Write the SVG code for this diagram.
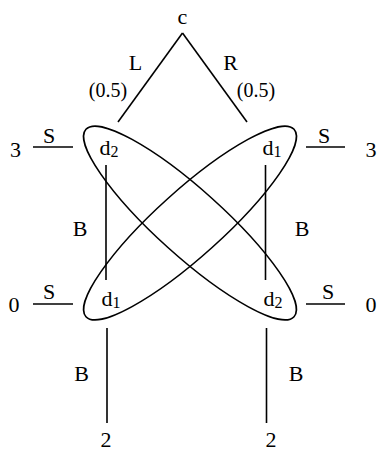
<svg xmlns="http://www.w3.org/2000/svg" width="377" height="451" viewBox="0 0 377 451">
<style>
text{font-family:"Liberation Serif","Times New Roman",serif;font-size:22px;fill:#000;text-anchor:middle}
.p{font-size:20px}
.s{font-size:16px}
line,ellipse{stroke:#000;stroke-width:1.6;fill:none}
</style>
<rect width="377" height="451" fill="#fff"/>
<g id="connectors">
<line x1="182.5" y1="33" x2="118" y2="122"/>
<line x1="182.5" y1="33" x2="247" y2="122"/>
<line x1="33" y1="147" x2="73" y2="147"/>
<line x1="306" y1="147" x2="345" y2="147"/>
<line x1="33" y1="304" x2="73" y2="304"/>
<line x1="306" y1="304" x2="345" y2="304"/>
<line x1="106" y1="165" x2="106" y2="280"/>
<line x1="265.5" y1="165" x2="265.5" y2="280"/>
<line x1="107" y1="328" x2="107" y2="423"/>
<line x1="266.5" y1="328" x2="266.5" y2="423"/>
</g>
<g id="labels">
<text x="135.5" y="70">L</text>
<text x="230.5" y="70">R</text>
<text class="p" x="108" y="97">(0.5)</text>
<text class="p" x="256" y="97">(0.5)</text>
<text x="49" y="143">S</text>
<text x="324" y="143">S</text>
<text x="49" y="299">S</text>
<text x="328" y="299">S</text>
<text x="80" y="236">B</text>
<text x="302" y="236">B</text>
<text x="81.5" y="381">B</text>
<text x="296" y="381">B</text>
</g>
<g id="info-set-1"><ellipse cx="190" cy="223" rx="140" ry="33" transform="rotate(42 190 223)"/></g>
<g id="info-set-2"><ellipse cx="190" cy="223" rx="140" ry="33" transform="rotate(-42 190 223)"/></g>
<g id="node-c"><text x="182.5" y="24">c</text></g>
<g id="node-d2-top"><text x="109" y="155">d<tspan class="s" dy="2">2</tspan></text></g>
<g id="node-d1-top"><text x="272" y="155">d<tspan class="s" dy="2">1</tspan></text></g>
<g id="node-d1-bottom"><text x="111" y="306">d<tspan class="s" dy="2">1</tspan></text></g>
<g id="node-d2-bottom"><text x="273" y="306">d<tspan class="s" dy="2">2</tspan></text></g>
<g id="payoff-3-left"><text x="15.5" y="157">3</text></g>
<g id="payoff-3-right"><text x="371" y="157">3</text></g>
<g id="payoff-0-left"><text x="14" y="312">0</text></g>
<g id="payoff-0-right"><text x="371" y="312">0</text></g>
<g id="payoff-2-left"><text x="106" y="447">2</text></g>
<g id="payoff-2-right"><text x="271" y="447">2</text></g>
</svg>
